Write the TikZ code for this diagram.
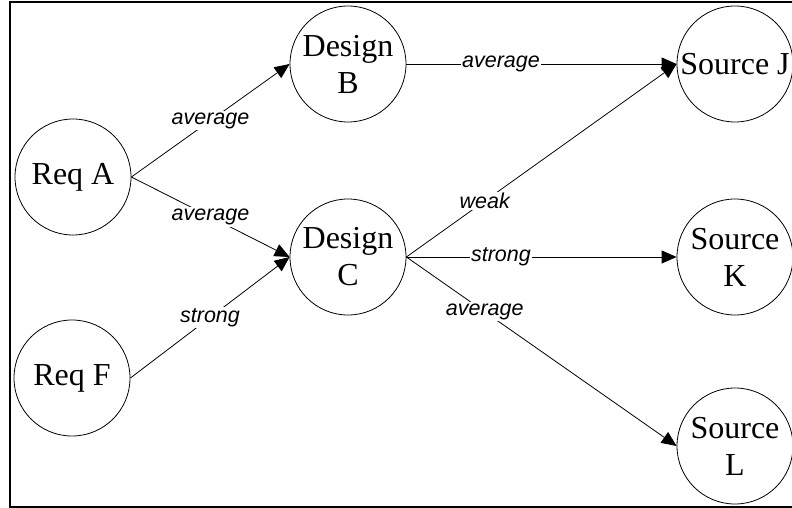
\documentclass[tikz,border=0pt]{standalone}
\usepackage{fontspec}
\setmainfont{Liberation Serif}
\setsansfont{Liberation Sans}
\usetikzlibrary{arrows.meta}

\begin{document}
\begin{tikzpicture}[x=1pt, y=-1pt,
  item/.style={draw, circle, line width=0.8pt, minimum size=116pt, inner sep=0pt,
    align=center, font=\fontsize{32}{37}\selectfont},
  link/.style={line width=0.8pt, -{Triangle[length=15pt,width=13pt]}},
  weight/.style={fill=white, inner sep=1.5pt, font=\sffamily\itshape\fontsize{21.5}{24}\selectfont}]
  \useasboundingbox (0,0) rectangle (792,508);
  % frame
  \draw[line width=1.4pt] (793,2) -- (10,2) -- (10,507) -- (793,507);
  \node[item] (reqA) at (73,177) {Req A};
  \node[item] (reqF) at (72,378) {Req F};
  \node[item] (desB) at (348,64) {Design\\B};
  \node[item] (desC) at (348,257) {Design\\C};
  \node[item] (srcJ) at (735,64) {Source J};
  \node[item] (srcK) at (735,257) {Source\\K};
  \node[item] (srcL) at (735,446) {Source\\L};
  \draw[link] (reqA.east) -- node[weight] {average} (desB.west);
  \draw[link] (reqA.east) -- node[weight] {average} (desC.west);
  \draw[link] (reqF.east) -- node[weight] {strong} (desC.west);
  \draw[link] (desB.east) -- node[weight, pos=0.35] {average} (srcJ.west);
  \draw[link] (desC.east) -- node[weight, pos=0.29] {weak} (srcJ.west);
  \draw[link] (desC.east) -- node[weight, pos=0.35] {strong} (srcK.west);
  \draw[link] (desC.east) -- node[weight, pos=0.29] {average} (srcL.west);
\end{tikzpicture}
\end{document}
